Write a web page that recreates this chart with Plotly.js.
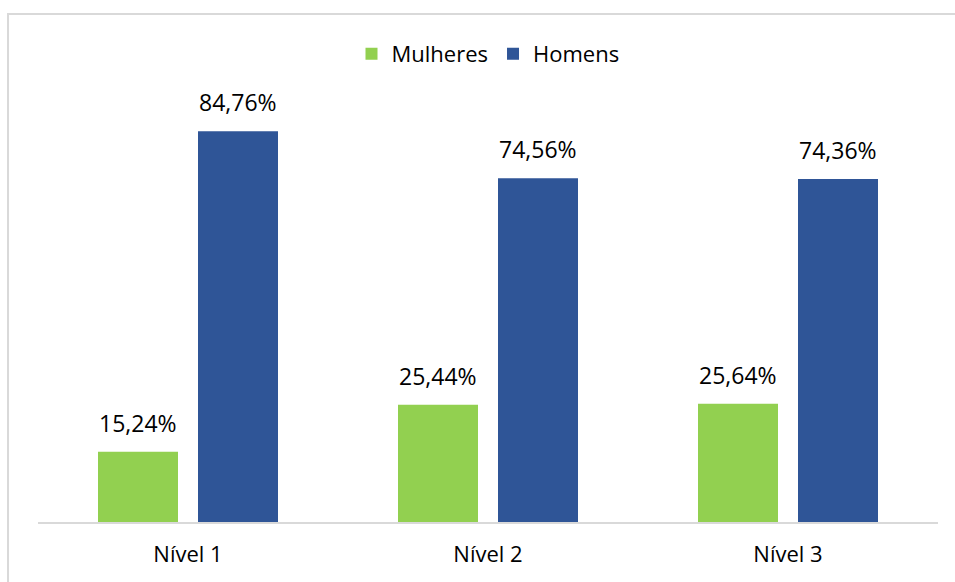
<!DOCTYPE html>
<html>
<head>
<meta charset="utf-8">
<script src="https://cdn.plot.ly/plotly-3.0.1.min.js"></script>
<style>html,body{margin:0;padding:0;background:#fff;}#chart{width:955px;height:582px;}</style>
</head>
<body>
<div id="chart"></div>
<script>
const categories = ["Nível 1", "Nível 2", "Nível 3"];
const mulheres = [15.24, 25.44, 25.64];
const homens = [84.76, 74.56, 74.36];
const seriesNames = ["Mulheres", "Homens"];
const colors = ["#92D050", "#2F5597"];

const fmt = v => v.toFixed(2).replace('.', ',') + '%';
const FONT = "Open Sans, sans-serif";

const traces = [mulheres, homens].map((vals, i) => ({
  type: 'bar',
  name: seriesNames[i],
  x: categories,
  y: vals,
  marker: {color: colors[i]},
  hoverinfo: 'skip'
}));

const annotations = [];
[mulheres, homens].forEach((vals, i) => {
  vals.forEach((v, j) => {
    annotations.push({
      x: categories[j], y: v, xref: 'x', yref: 'y',
      xshift: i === 0 ? -50 : 50, yshift: 11,
      yanchor: 'bottom', showarrow: false,
      text: fmt(v),
      font: {family: FONT, size: 23, color: '#000'}
    });
  });
});

const layout = {
  width: 955, height: 582,
  margin: {l: 38, r: 17, t: 107, b: 60},
  paper_bgcolor: '#fff', plot_bgcolor: '#fff',
  barmode: 'group', bargap: 1/3, bargroupgap: 0.2,
  showlegend: true,
  legend: {orientation: 'h', x: 0.5, xanchor: 'center', y: 1.128, yanchor: 'middle',
    font: {family: FONT, size: 22, color: '#000'}, itemclick: false, traceorder: 'normal'},
  xaxis: {showgrid: false, zeroline: false, showline: true, linecolor: '#d9d9d9', linewidth: 2,
    ticks: '', ticklabelstandoff: 12, tickfont: {family: FONT, size: 22, color: '#000'}, fixedrange: true},
  yaxis: {range: [0, 90], visible: false, showgrid: false, zeroline: false, fixedrange: true},
  annotations: annotations,
  shapes: [{type: 'rect', xref: 'paper', yref: 'paper',
    x0: -0.0333, x1: 1.05, y0: -0.2, y1: 1.224,
    line: {color: '#d9d9d9', width: 2}, fillcolor: 'rgba(0,0,0,0)', layer: 'above'}]
};

Plotly.newPlot('chart', traces, layout, {displayModeBar: false, staticPlot: true});
</script>
</body>
</html>
